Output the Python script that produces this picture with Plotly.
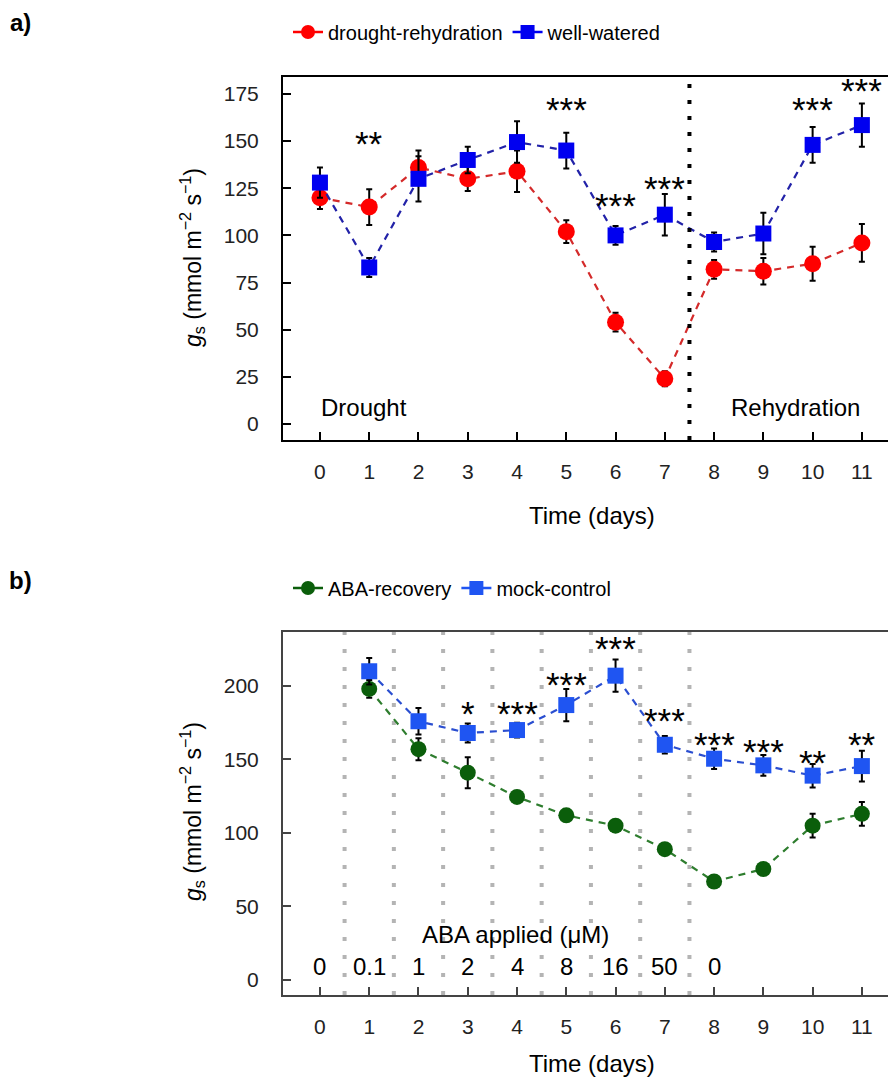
import plotly.graph_objects as go

# ---------------- data: panel a ----------------
days_a = [0, 1, 2, 3, 4, 5, 6, 7, 8, 9, 10, 11]
drought_mean = [120, 115, 136, 130, 134, 102, 54, 24, 82, 81, 85, 96]
drought_err = [6, 9.5, 9, 6.5, 11, 6, 5, 4, 5, 7, 9, 10]
watered_mean = [128, 83, 130, 140, 149.5, 145, 100, 111, 96.5, 101, 148, 158.5]
watered_err = [8, 5, 12, 7, 11, 9.5, 5, 11, 5, 11, 9.5, 11.5]
sig_a_days = [1, 5, 6, 7, 10, 11]
sig_a_labels = ["**", "***", "***", "***", "***", "***"]
sig_a_y = [152, 170, 119, 128, 170, 180]
phase_split_a = 7.5
phase_labels = ["Drought", "Rehydration"]
phase_label_x = [0.9, 9.65]
phase_label_y = 9

# ---------------- data: panel b ----------------
days_b = [1, 2, 3, 4, 5, 6, 7, 8, 9, 10, 11]
aba_mean = [198, 157, 141, 124.5, 112, 105, 89, 67, 75.5, 105, 113]
aba_err = [6, 7.5, 10.5, 4, 3, 3, 3, 2, 4, 8, 8]
mock_mean = [210, 176, 168, 170, 187, 207, 160, 150.5, 146, 139, 145.5]
mock_err = [9, 9, 6.5, 5, 11, 11, 6, 7, 7, 8, 10.5]
sig_b_days = [3, 4, 5, 6, 7, 8, 9, 10, 11]
sig_b_labels = ["*", "***", "***", "***", "***", "***", "***", "**", "**"]
sig_b_y = [186, 186, 206, 230, 181, 165, 160.5, 153, 165]
dose_days = [0, 1, 2, 3, 4, 5, 6, 7, 8]
dose_labels = ["0", "0.1", "1", "2", "4", "8", "16", "50", "0"]
dose_y = 9.5
dose_title_x = 3.96
dose_title_y = 31
dose_boundaries = [0.5, 1.5, 2.5, 3.5, 4.5, 5.5, 6.5, 7.5]

yticks_a = [0, 25, 50, 75, 100, 125, 150, 175]
yticks_b = [0, 50, 100, 150, 200]

FONT = "Liberation Sans, Arial, sans-serif"
W, H = 888, 1083

fig = go.Figure()

def series(x, y, e, name, mcol, lcol, symbol, size, xa, ya):
    fig.add_trace(go.Scatter(
        x=x, y=y, mode="lines+markers", name=name, showlegend=False,
        xaxis=xa, yaxis=ya,
        line=dict(color=lcol, width=2.2, dash="7px,6px"),
        marker=dict(color=mcol, symbol=symbol, size=size, line=dict(width=0)),
        error_y=dict(type="data", array=e, visible=True, color="black",
                     thickness=2, width=3),
    ))

series(days_a, drought_mean, drought_err, "drought-rehydration", "#ff0000", "#d42a2a",
       "circle", 17, "x", "y")
series(days_a, watered_mean, watered_err, "well-watered", "#0000f0", "#2222a8",
       "square", 16, "x", "y")
series(days_b, aba_mean, aba_err, "ABA-recovery", "#0b5e0b", "#2e7d2e",
       "circle", 16, "x2", "y2")
series(days_b, mock_mean, mock_err, "mock-control", "#1f55f2", "#2a4ed0",
       "square", 16, "x2", "y2")

# legend-only entries (solid short line with marker)
def legend_entry(name, mcol, symbol, legend):
    fig.add_trace(go.Scatter(
        x=[None], y=[None], mode="lines+markers", name=name, legend=legend,
        line=dict(color=mcol, width=2.5),
        marker=dict(color=mcol, symbol=symbol, size=14),
    ))

legend_entry("drought-rehydration", "#ff0000", "circle", "legend")
legend_entry("well-watered", "#0000f0", "square", "legend")
legend_entry("ABA-recovery", "#0b5e0b", "circle", "legend2")
legend_entry("mock-control", "#1f55f2", "square", "legend2")

def px_x(p):
    return p / W

def px_y(p):
    return 1 - p / H

STAR = 35
ann = []
for d, lab, y in zip(sig_a_days, sig_a_labels, sig_a_y):
    ann.append(dict(x=d, y=y, xref="x", yref="y", text=lab, showarrow=False,
                    xanchor="center", yanchor="middle", yshift=-6,
                    font=dict(size=STAR, color="black", family=FONT)))
for d, lab, y in zip(sig_b_days, sig_b_labels, sig_b_y):
    ann.append(dict(x=d, y=y, xref="x2", yref="y2", text=lab, showarrow=False,
                    xanchor="center", yanchor="middle", yshift=-7,
                    font=dict(size=STAR, color="black", family=FONT)))
for lab, x in zip(phase_labels, phase_label_x):
    ann.append(dict(x=x, y=phase_label_y, xref="x", yref="y", text=lab, showarrow=False,
                    xanchor="center", yanchor="middle",
                    font=dict(size=24, color="black", family=FONT)))
for d, lab in zip(dose_days, dose_labels):
    ann.append(dict(x=d, y=dose_y, xref="x2", yref="y2", text=lab, showarrow=False,
                    xanchor="center", yanchor="middle",
                    font=dict(size=24, color="black", family=FONT)))
ann.append(dict(x=dose_title_x, y=dose_title_y, xref="x2", yref="y2",
                text="ABA applied (\u03bcM)", showarrow=False,
                xanchor="center", yanchor="middle",
                font=dict(size=24, color="black", family=FONT)))

ytitle = "<i>g</i><sub>s</sub> (mmol m<sup>\u22122</sup> s<sup>\u22121</sup>)"
paper_text = [
    (192, 258, ytitle, -90, 23, False),
    (192, 812, ytitle, -90, 23, False),
    (592, 515, "Time (days)", 0, 24, False),
    (592, 1063, "Time (days)", 0, 24, False),
    (20, 22, "a)", 0, 24, True),
    (20, 580, "b)", 0, 24, True),
]
for x, y, t, ang, sz, bold in paper_text:
    ann.append(dict(x=px_x(x), y=px_y(y), xref="paper", yref="paper",
                    text=f"<b>{t}</b>" if bold else t, textangle=ang, showarrow=False,
                    xanchor="center", yanchor="middle",
                    font=dict(size=sz, color="black", family=FONT)))

shapes = [dict(type="line", xref="x", yref="y domain", x0=phase_split_a, x1=phase_split_a,
               y0=0, y1=1, line=dict(color="black", width=4, dash="4px,12px"))]
for b in dose_boundaries:
    shapes.append(dict(type="line", xref="x2", yref="y2 domain", x0=b, x1=b, y0=0, y1=1,
                       layer="below", line=dict(color="#b4b4b4", width=4, dash="4px,14px")))

def xaxis(anchor, col):
    return dict(domain=[283 / W, 1.0], range=[-0.75, 11.53], anchor=anchor,
                tickvals=days_a, ticks="inside", ticklen=8, tickwidth=2, tickcolor=col,
                showline=True, linecolor=col, linewidth=2, mirror=True,
                showgrid=False, zeroline=False, ticklabelstandoff=12,
                tickfont=dict(size=21, color="#222", family=FONT))

def yaxis(anchor, dom, rng, ticks, col):
    return dict(domain=dom, range=rng, anchor=anchor, tickvals=ticks,
                ticks="inside", ticklen=8, tickwidth=2, tickcolor=col,
                showline=True, linecolor=col, linewidth=2,
                showgrid=False, zeroline=False, ticklabelstandoff=18,
                tickfont=dict(size=21, color="#222", family=FONT))

fig.update_layout(
    width=W, height=H, margin=dict(l=0, r=0, t=0, b=0),
    paper_bgcolor="white", plot_bgcolor="white",
    font=dict(family=FONT, color="black"),
    xaxis=xaxis("y", "black"),
    yaxis=yaxis("x", [1 - 440 / H, 1 - 77 / H], [-8.5, 184], yticks_a, "black"),
    xaxis2=xaxis("y2", "#444"),
    yaxis2=yaxis("x2", [1 - 995 / H, 1 - 632 / H], [-10.2, 236.7], yticks_b, "#444"),
    legend=dict(orientation="h", x=px_x(288), y=px_y(32), xanchor="left", yanchor="middle",
                font=dict(size=20, family=FONT), itemwidth=30, bgcolor="rgba(0,0,0,0)"),
    legend2=dict(orientation="h", x=px_x(288), y=px_y(588), xanchor="left", yanchor="middle",
                 font=dict(size=20, family=FONT), itemwidth=30, bgcolor="rgba(0,0,0,0)"),
    annotations=ann, shapes=shapes,
)

fig.write_html("out.html")
